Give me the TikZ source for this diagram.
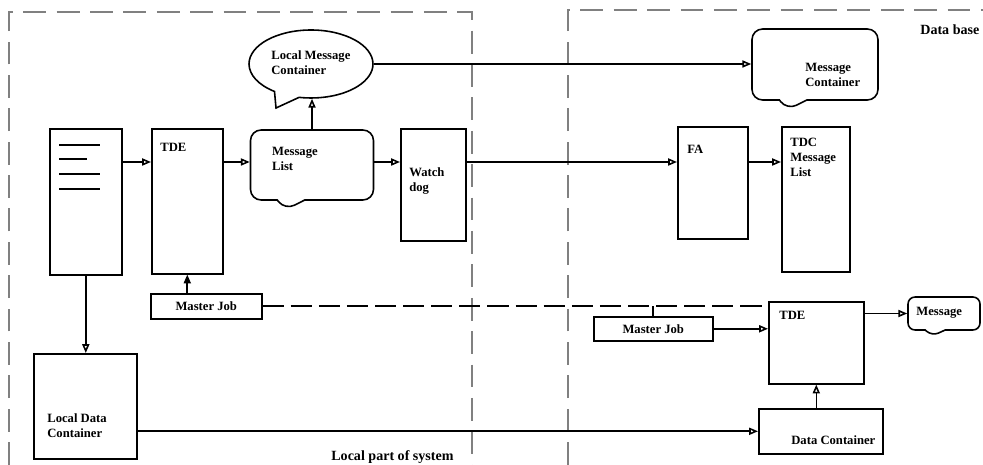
\documentclass[tikz,border=0pt]{standalone}
\usepackage{fontspec}
\setmainfont{Liberation Serif}
\usetikzlibrary{arrows.meta,shapes.callouts}

\begin{document}
\begin{tikzpicture}[
  x=0.02cm, y=-0.02cm,
  every node/.style={font=\bfseries\fontsize{7.2}{8.6}\selectfont},
  box/.style={draw, line width=0.9pt, inner sep=0pt, anchor=north west},
  txt/.style={anchor=north west, inner sep=0pt, align=left},
  bubble/.style={draw, line width=0.9pt, inner sep=0pt, rectangle callout, rounded corners=6pt},
  arr/.style={line width=0.9pt, -{Triangle[open, length=5pt, width=4pt]}},
  region/.style={draw=gray, line width=0.6pt, dash pattern=on 13pt off 6pt}
]
\useasboundingbox (0,0) rectangle (983,465);
\draw[region] (9,465) -- (9,12) -- (472,12) -- (472,465);
\draw[region] (568,465) -- (568,10) -- (983,10);
\node[txt, font=\bfseries\fontsize{8}{9.6}\selectfont] (local) at (331,450) {Local part of system};
\node[txt, font=\bfseries\fontsize{8}{9.6}\selectfont] (db) at (920,24) {Data base};

\node[box, minimum width=1.44cm, minimum height=2.92cm] (doc) at (49,128) {};
\foreach \dy/\len in {17/41, 31/28, 46/41, 61/41}
  \draw[line width=0.9pt] ([shift={(10,\dy)}]doc.north west) -- ++(\len,0);
\node[box, minimum width=1.42cm, minimum height=2.9cm] (tdeL) at (151,128) {};
\node[txt] (tdeLt) at ([shift={(9,15)}]tdeL.north west) {TDE};
\node[bubble, minimum width=2.46cm, minimum height=1.4cm, callout absolute pointer={(285,210)}, callout pointer width=0.55cm] (mlist) at (312,165) {};
\node[txt] (mlistt) at ([shift={(22,18)}]mlist.north west) {Message\\List};
\node[ellipse callout, draw, line width=0.9pt, inner sep=0pt, minimum width=2.48cm, minimum height=1.36cm, callout absolute pointer={(276,108)}, callout pointer arc=25] (lmc) at (311,64) {};
\node[txt] (lmct) at ([shift={(-40,-14)}]lmc.center) {Local Message\\Container};
\node[box, minimum width=1.3cm, minimum height=2.24cm] (wd) at (400,128) {};
\node[txt] (wdt) at ([shift={(9,39)}]wd.north west) {Watch\\dog};

\node[bubble, minimum width=2.52cm, minimum height=1.42cm, callout absolute pointer={(787,110)}, callout pointer width=0.55cm] (msgC) at (815,64.5) {};
\node[txt] (msgCt) at ([shift={(-10,-2)}]msgC.center) {Message\\Container};
\node[box, minimum width=1.4cm, minimum height=2.24cm] (fa) at (677,126) {};
\node[txt] (fat) at ([shift={(10,19)}]fa.north west) {FA};
\node[box, minimum width=1.36cm, minimum height=2.9cm] (tdc) at (781,126) {};
\node[txt] (tdct) at ([shift={(9,12)}]tdc.north west) {TDC\\Message\\List};

\node[box, minimum width=2.22cm, minimum height=0.5cm] (mjL) at (150,293) {Master Job};
\node[box, minimum width=2.38cm, minimum height=0.48cm] (mjR) at (593,316) {Master Job};
\node[box, minimum width=1.9cm, minimum height=1.64cm] (tdeR) at (768,301) {};
\node[txt] (tdeRt) at ([shift={(11,10)}]tdeR.north west) {TDE};
\node[bubble, rounded corners=4pt, minimum width=1.44cm, minimum height=0.66cm, callout absolute pointer={(932,336)}, callout pointer width=0.4cm] (msg) at (944,313.5) {};
\node[txt] (msgt) at ([shift={(-28,-7)}]msg.center) {Message};
\node[box, minimum width=2.48cm, minimum height=0.9cm] (dc) at (758,408) {};
\node[txt] (dct) at ([shift={(33,27)}]dc.north west) {Data Container};
\node[box, minimum width=2.06cm, minimum height=2.1cm] (ldc) at (33,353) {};
\node[txt] (ldct) at ([shift={(14,60)}]ldc.north west) {Local Data\\Container};

\coordinate (row) at (0,162);
\draw[arr] (doc.east |- row) -- (tdeL.west |- row);
\draw[arr] (tdeL.east |- row) -- (mlist.west |- row);
\draw[arr] (mlist.east |- row) -- (wd.west |- row);
\draw[arr] (wd.east |- row) -- (fa.west |- row);
\draw[arr] (fa.east |- row) -- (tdc.west |- row);
\draw[arr] (mlist.north) -- (mlist.north |- lmc.south);
\draw[arr] (lmc.east) -- (msgC.west |- lmc.east);
\draw[arr] (doc.south) -- (doc.south |- ldc.north);
\draw[line width=0.9pt, -{Triangle[length=5pt, width=4pt]}] (tdeL.south |- mjL.north) -- (tdeL.south);
\draw[line width=0.9pt, dash pattern=on 12pt off 4pt] (mjL.east) -- (mjL.east -| tdeR.west);
\draw[line width=0.9pt] (mjR.north) -- (mjR.north |- mjL.east);
\draw[arr] (mjR.east) -- (mjR.east -| tdeR.west);
\draw[arr] (tdeR.east |- msg.west) -- (msg.west);
\draw[arr] (tdeR.south |- dc.north) -- (tdeR.south);
\draw[arr] (ldc.east |- dc.west) -- (dc.west);
\end{tikzpicture}
\end{document}
